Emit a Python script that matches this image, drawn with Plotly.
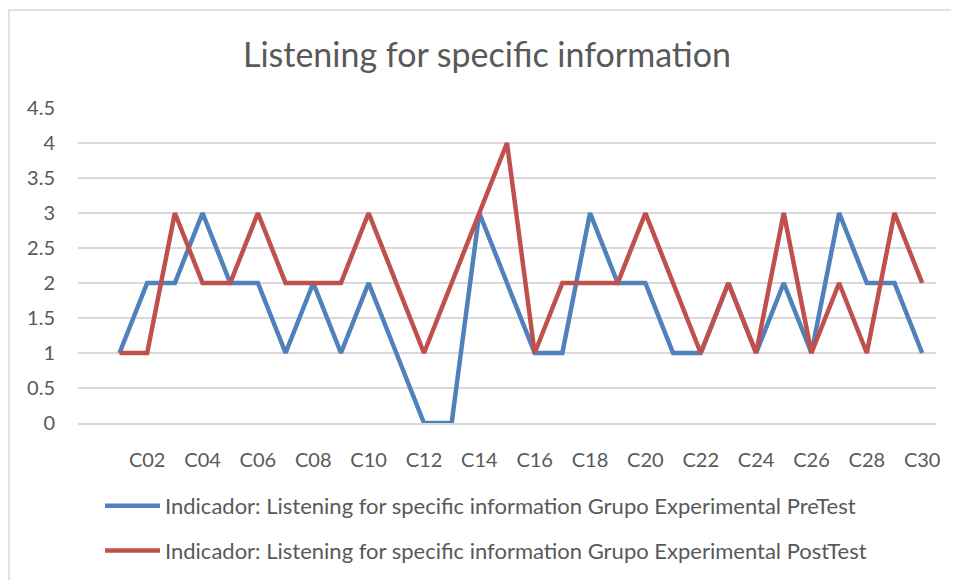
import plotly.graph_objects as go

# categories: a blank first slot, then C01..C30 (labels every second slot)
categories = [' '] + ['C{:02d}'.format(i) for i in range(1, 31)]
data_categories = categories[1:]
tick_labels = categories[2::2]

pre_test = [1, 2, 2, 3, 2, 2, 1, 2, 1, 2,
            1, 0, 0, 3, 2, 1, 1, 3, 2, 2,
            1, 1, 2, 1, 2, 1, 3, 2, 2, 1]
post_test = [1, 1, 3, 2, 2, 3, 2, 2, 2, 3,
             2, 1, 2, 3, 4, 1, 2, 2, 2, 3,
             2, 1, 2, 1, 3, 1, 2, 1, 3, 2]

name_pre = 'Indicador: Listening for specific information Grupo Experimental PreTest'
name_post = 'Indicador: Listening for specific information Grupo Experimental PostTest'

# page body adds an 8px offset, so the figure is sized/placed to compensate
OFF = 8
W, H = 959 - OFF, 580 - OFF
plot_l, plot_r, plot_t, plot_b = 78, 936, 108, 423   # screen coords
L, R, T, B = plot_l - OFF, W - (plot_r - OFF), plot_t - OFF, H - (plot_b - OFF)
pw, ph = W - L - R, H - T - B
def px(x): return (x - plot_l) / pw
def py(y): return (plot_b - y) / ph

font_family = 'Lato, "Open Sans", sans-serif'
txt_color = '#595959'

fig = go.Figure()
fig.add_trace(go.Scatter(x=data_categories, y=pre_test, mode='lines', name=name_pre,
                         line=dict(color='#4F81BD', width=4.5), legendgroup='a'))
fig.add_trace(go.Scatter(x=data_categories, y=post_test, mode='lines', name=name_post,
                         line=dict(color='#C0504D', width=4.5), legendgroup='b'))

fig.update_layout(
    width=W, height=H,
    margin=dict(l=L, r=R, t=T, b=B, autoexpand=False),
    paper_bgcolor='white', plot_bgcolor='white',
    font=dict(family=font_family, color=txt_color, size=20),
    title=dict(text='Listening for specific information',
               x=(487 - OFF) / W, xanchor='center', xref='container',
               y=1 - (55 - OFF) / H, yref='container', yanchor='middle',
               font=dict(size=34, color=txt_color, family=font_family)),
    xaxis=dict(type='category', categoryorder='array', categoryarray=categories,
               range=[-0.5, len(categories) - 0.5],
               tickmode='array', tickvals=tick_labels, ticktext=tick_labels,
               showgrid=False, showline=True, linecolor='#D9D9D9', linewidth=1.5,
               ticks='', ticklabelstandoff=18, tickfont=dict(size=20)),
    yaxis=dict(range=[0, 4.5], dtick=0.5, tickformat='.1~f',
               showgrid=True, gridcolor='#D9D9D9', gridwidth=1.5,
               zeroline=False, ticks='', ticklabelstandoff=22,
               tickfont=dict(size=20)),
    legend=dict(x=px(100), y=py(485), xanchor='left', yanchor='top',
                orientation='v', font=dict(size=22), tracegroupgap=13,
                itemwidth=55),
    showlegend=True,
    shapes=[dict(type='rect', xref='paper', yref='paper',
                 x0=px(9), x1=px(975), y0=py(600), y1=py(10),
                 line=dict(color='#D9D9D9', width=1.5), fillcolor='rgba(0,0,0,0)',
                 layer='below')],
)

fig.write_html('out.html')
